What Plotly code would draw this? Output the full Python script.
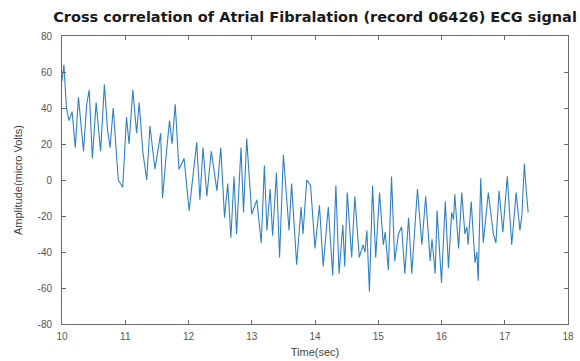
import plotly.graph_objects as go

# Time (s) and amplitude (micro Volts)
time_sec = [
    10.00, 10.03, 10.07, 10.11, 10.16, 10.21, 10.26, 10.34, 10.39, 10.43,
    10.48, 10.54, 10.61, 10.67, 10.72, 10.76, 10.81, 10.89, 10.96, 11.02,
    11.06, 11.12, 11.18, 11.22, 11.28, 11.34, 11.39, 11.47, 11.56, 11.59,
    11.65, 11.70, 11.74, 11.79, 11.85, 11.93, 12.01, 12.08, 12.13, 12.18,
    12.23, 12.29, 12.36, 12.45, 12.51, 12.57, 12.62, 12.67, 12.72, 12.76,
    12.83, 12.87, 12.92, 13.00, 13.08, 13.15, 13.20, 13.24, 13.29, 13.33,
    13.39, 13.44, 13.50, 13.59, 13.63, 13.71, 13.78, 13.81, 13.87, 13.93,
    14.00, 14.07, 14.13, 14.21, 14.28, 14.33, 14.38, 14.44, 14.47, 14.51,
    14.58, 14.63, 14.70, 14.76, 14.79, 14.82, 14.86, 14.91, 14.96, 15.02,
    15.08, 15.11, 15.16, 15.21, 15.26, 15.32, 15.37, 15.42, 15.48, 15.53,
    15.62, 15.69, 15.75, 15.82, 15.85, 15.90, 15.93, 16.00, 16.06, 16.11,
    16.16, 16.19, 16.21, 16.27, 16.32, 16.37, 16.40, 16.42, 16.47, 16.53,
    16.56, 16.58, 16.62, 16.66, 16.74, 16.82, 16.86, 16.91, 16.97, 17.04,
    17.11, 17.18, 17.24, 17.27, 17.31, 17.34, 17.37,
]
amplitude = [
    55, 64, 40, 33, 38, 18, 46, 16, 42, 50,
    12, 43, 16, 53, 28, 18, 40, 0, -4, 35,
    20, 50, 26, 43, 15, 0, 30, 6, 26, -10,
    15, 33, 20, 42, 6, 12, -17, 5, 21, -11,
    18, -9, 16, -6, 18, -21, -2, -32, 2, -30,
    18, -18, 23, -19, -11, -35, 8, -28, -5, -31,
    4, -43, 14, -28, -2, -47, -15, -30, 0, -3,
    -38, -14, -48, -15, -53, -3, -52, -25, -48, -7,
    -43, -9, -43, -36, -40, -28, -62, -3, -43, -7,
    -36, -29, -50, 2, -45, -30, -26, -52, -21, -52,
    -5, -36, -9, -45, -33, -52, -17, -57, -12, -49,
    -18, -22, -8, -38, -7, -30, -26, -36, -12, -46,
    -40, -56, 1, -35, -7, -30, -35, -6, -29, 2,
    -36, -7, -28, -20, 9, -6, -18,
]

x_ticks = [10, 11, 12, 13, 14, 15, 16, 17, 18]
y_ticks = [-80, -60, -40, -20, 0, 20, 40, 60, 80]

title_text = "Cross correlation of Atrial Fibralation (record 06426) ECG signal"
x_title = "Time(sec)"
y_title = "Amplitude(micro Volts)"

fig = go.Figure()
fig.add_trace(go.Scatter(
    x=time_sec, y=amplitude, mode="lines",
    line=dict(color="#2f82c2", width=1.1),
    showlegend=False,
))

axis_common = dict(
    showgrid=False, zeroline=False, showline=True, mirror="ticks",
    linecolor="#6a6a6a", linewidth=1,
    ticks="inside", ticklen=4, tickcolor="#6a6a6a",
    automargin=False,
    tickfont=dict(family="Liberation Sans, Arial", size=10, color="#555555"),
)

fig.update_layout(
    width=580, height=361,
    margin=dict(l=62, r=12, t=36, b=37),
    paper_bgcolor="white", plot_bgcolor="white",
    title=dict(
        text="<b>" + title_text + "</b>",
        x=0.5, xref="paper", xanchor="center",
        y=1 - 17 / 361, yref="container", yanchor="middle",
        font=dict(family="DejaVu Sans", size=14.5, color="#1a1a1a"),
    ),
    xaxis=dict(
        range=[10, 18], tickvals=x_ticks, ticktext=[str(v) for v in x_ticks],
        ticklabelstandoff=3,
        title=dict(text=x_title, standoff=7,
                   font=dict(family="Liberation Sans, Arial", size=11, color="#444444")),
        **axis_common,
    ),
    yaxis=dict(
        range=[-80, 80], tickvals=y_ticks, ticktext=[str(v) for v in y_ticks],
        ticklabelstandoff=7,
        title=dict(text=y_title, standoff=12,
                   font=dict(family="Liberation Sans, Arial", size=11, color="#444444")),
        **axis_common,
    ),
)

fig.write_html("out.html")
